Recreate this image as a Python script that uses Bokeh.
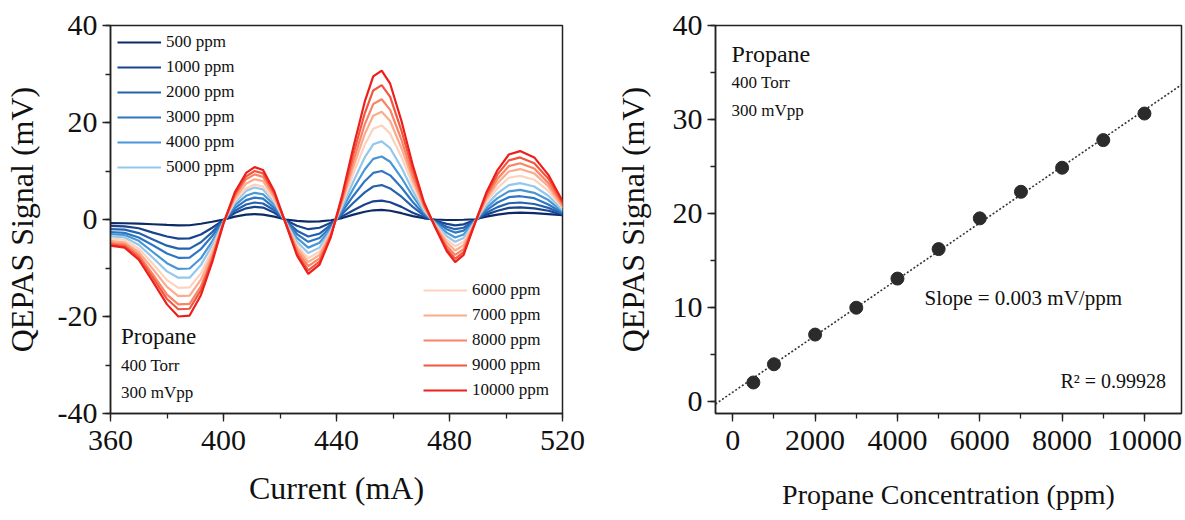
from bokeh.plotting import figure
from bokeh.models import Range1d, SingleIntervalTicker, Legend, LegendItem, Label, PrintfTickFormatter
from bokeh.layouts import row
from bokeh.embed import file_html
from bokeh.resources import INLINE
import numpy as np

FONT = "Liberation Serif"

# ---------------- data: left panel (2f signal vs current) ----------------
current_mA = [360, 365, 370, 375, 380, 384, 388, 392, 396, 400, 404, 408, 411, 414, 418,
              422, 426, 430, 434, 438, 442, 446, 450, 453, 456, 459, 463, 467, 471,
              475, 479, 482, 485, 489, 493, 497, 501, 505, 510, 515, 520]

sig_500 = [-0.75, -0.77, -0.84, -0.98, -1.12, -1.2, -1.19, -0.87, -0.46, -0.02,
           0.6, 1.0, 1.1, 1.0, 0.6, 0.0, -0.3, -0.45, -0.4, -0.15,
           0.3, 1.0, 1.6, 1.9, 2.0, 1.8, 1.3, 0.7, 0.25,
           0.0, -0.1, -0.1, -0.05, 0.05, 0.6, 1.0, 1.3, 1.4, 1.3, 1.1, 0.9]
sig_1000 = [-1.3, -1.4, -1.8, -2.7, -3.5, -3.95, -3.9, -3.1, -1.7, -0.15,
            1.35, 2.3, 2.6, 2.45, 1.4, -0.15, -1.3, -2.0, -1.7, -0.65,
            0.65, 1.9, 3.1, 3.75, 3.9, 3.55, 2.6, 1.4, 0.45,
            -0.25, -0.9, -1.2, -1.0, -0.1, 1.0, 1.8, 2.4, 2.5, 2.3, 1.8, 1.0]
sig_2000 = [-2.0, -2.1, -2.8, -4.1, -5.4, -6.0, -6.0, -4.7, -2.6, -0.2,
            1.8, 3.1, 3.5, 3.3, 1.9, -0.25, -2.3, -3.5, -2.9, -1.1,
            1.15, 3.45, 5.6, 6.8, 7.1, 6.4, 4.7, 2.6, 0.8,
            -0.4, -1.5, -2.0, -1.7, -0.2, 1.4, 2.55, 3.35, 3.5, 3.2, 2.4, 1.2]
sig_3000 = [-2.6, -2.75, -3.7, -5.3, -7.0, -7.9, -7.85, -6.1, -3.4, -0.3,
            2.35, 4.0, 4.5, 4.3, 2.4, -0.3, -3.0, -4.6, -3.8, -1.5,
            1.6, 4.9, 7.9, 9.6, 10.0, 9.1, 6.6, 3.6, 1.1,
            -0.5, -2.0, -2.7, -2.3, -0.25, 1.9, 3.5, 4.6, 4.8, 4.4, 3.1, 1.4]
sig_4000 = [-3.0, -3.2, -4.4, -6.7, -9.0, -10.2, -10.1, -8.0, -4.5, -0.4,
            2.9, 4.9, 5.5, 5.2, 3.0, -0.4, -3.8, -5.8, -4.8, -1.9,
            2.1, 6.4, 10.3, 12.5, 13.0, 11.9, 8.6, 4.8, 1.5,
            -0.7, -2.7, -3.7, -3.1, -0.3, 2.4, 4.4, 5.8, 6.1, 5.5, 4.0, 1.6]
sig_5000 = [-3.5, -3.7, -5.2, -7.9, -10.7, -12.0, -12.0, -9.4, -5.3, -0.5,
            3.4, 5.9, 6.6, 6.2, 3.5, -0.5, -4.6, -6.9, -5.8, -2.2,
            2.6, 7.9, 12.8, 15.5, 16.1, 14.7, 10.7, 5.9, 1.8,
            -0.9, -3.4, -4.6, -3.8, -0.4, 2.9, 5.4, 7.1, 7.5, 6.8, 4.9, 1.9]
sig_6000 = [-3.9, -4.2, -6.0, -9.1, -12.5, -14.1, -14.0, -11.1, -6.2, -0.6,
            3.8, 6.4, 7.2, 6.8, 3.9, -0.6, -5.3, -8.0, -6.6, -2.6,
            3.2, 9.5, 15.4, 18.7, 19.4, 17.7, 12.9, 7.1, 2.2,
            -1.1, -4.1, -5.5, -4.6, -0.5, 3.5, 6.5, 8.6, 9.0, 8.2, 5.9, 2.3]
sig_7000 = [-4.4, -4.7, -6.7, -10.2, -13.9, -15.8, -15.7, -12.4, -7.0, -0.6,
            4.3, 7.4, 8.3, 7.9, 4.5, -0.6, -5.8, -8.8, -7.3, -2.8,
            3.6, 10.9, 17.6, 21.4, 22.2, 20.3, 14.7, 8.1, 2.5,
            -1.2, -4.7, -6.4, -5.3, -0.6, 4.1, 7.5, 9.9, 10.4, 9.5, 6.8, 2.6]
sig_8000 = [-4.8, -5.1, -7.3, -11.3, -15.5, -17.5, -17.4, -13.8, -7.8, -0.7,
            4.8, 8.3, 9.3, 8.8, 5.0, -0.7, -6.4, -9.6, -8.0, -3.1,
            4.0, 12.1, 19.6, 23.8, 24.8, 22.6, 16.4, 9.0, 2.8,
            -1.4, -5.4, -7.3, -6.1, -0.7, 4.5, 8.4, 11.0, 11.6, 10.5, 7.5, 3.0]
sig_9000 = [-5.1, -5.5, -7.8, -12.0, -16.4, -18.5, -18.4, -14.6, -8.2, -0.7,
            5.2, 8.9, 10.0, 9.5, 5.4, -0.75, -7.0, -10.5, -8.7, -3.4,
            4.5, 13.5, 21.9, 26.6, 27.7, 25.3, 18.3, 10.1, 3.2,
            -1.6, -6.0, -8.1, -6.7, -0.7, 5.0, 9.3, 12.2, 12.8, 11.6, 8.4, 3.4]
sig_10000 = [-5.4, -5.8, -8.3, -12.8, -17.5, -20.0, -19.8, -15.6, -8.8, -0.8,
             5.6, 9.6, 10.8, 10.2, 5.8, -0.8, -7.4, -11.2, -9.3, -3.6,
             5.0, 15.0, 24.3, 29.5, 30.7, 28.0, 20.3, 11.2, 3.5,
             -1.7, -6.5, -8.8, -7.3, -0.8, 5.5, 10.2, 13.4, 14.1, 12.8, 9.2, 3.8]

series_labels = ["500 ppm", "1000 ppm", "2000 ppm", "3000 ppm", "4000 ppm", "5000 ppm",
                 "6000 ppm", "7000 ppm", "8000 ppm", "9000 ppm", "10000 ppm"]
series_values = [sig_500, sig_1000, sig_2000, sig_3000, sig_4000, sig_5000,
                 sig_6000, sig_7000, sig_8000, sig_9000, sig_10000]
series_colors = ["#0b2a66", "#17438f", "#2562ad", "#2f76c2", "#4896d6", "#92c8ee",
                 "#fdd3bd", "#fcab8d", "#fa8466", "#f3563e", "#ec1f1a"]

# ---------------- data: right panel (calibration) ----------------
conc_ppm = [500, 1000, 2000, 3000, 4000, 5000, 6000, 7000, 8000, 9000, 10000]
peak_mV = [2.0, 3.94, 7.1, 9.96, 13.06, 16.2, 19.47, 22.3, 24.86, 27.8, 30.63]


def style(p, xlabel, ylabel, xlabel_size, ylabel_size, xstand, ystand):
    p.xgrid.visible = False
    p.ygrid.visible = False
    p.outline_line_color = "#222222"
    p.outline_line_width = 1.5
    p.background_fill_color = "white"
    p.border_fill_color = "white"
    p.xaxis.axis_label = xlabel
    p.yaxis.axis_label = ylabel
    for ax in list(p.xaxis) + list(p.yaxis):
        ax.axis_line_color = "#222222"
        ax.axis_line_width = 1.5
        ax.major_tick_line_color = "#222222"
        ax.minor_tick_line_color = "#222222"
        ax.major_tick_line_width = 1.3
        ax.minor_tick_line_width = 1.3
        ax.major_tick_in = 0
        ax.major_tick_out = 8
        ax.minor_tick_in = 0
        ax.minor_tick_out = 5
        ax.major_label_text_font = FONT
        ax.major_label_text_font_size = "30px"
        ax.major_label_text_color = "#111111"
        ax.axis_label_text_font = FONT
        ax.axis_label_text_font_style = "normal"
        ax.axis_label_text_color = "#111111"
    p.yaxis.major_label_standoff = 5
    p.xaxis.major_label_standoff = 9
    p.yaxis.formatter = PrintfTickFormatter(format="%d")
    p.xaxis.formatter = PrintfTickFormatter(format="%d")
    p.xaxis.axis_label_text_font_size = xlabel_size
    p.yaxis.axis_label_text_font_size = ylabel_size
    p.xaxis.axis_label_standoff = xstand
    p.yaxis.axis_label_standoff = ystand


def note(p, x, y, text, size):
    p.add_layout(Label(x=x, y=y, text=text, text_font=FONT, text_font_size=size,
                       text_baseline="middle", text_color="#111111"))


# ---------------- left figure ----------------
p1 = figure(width=600, height=512, x_range=Range1d(360, 520), y_range=Range1d(-40, 40),
            output_backend="svg", toolbar_location=None,
            min_border_left=106, min_border_right=38, min_border_top=25, min_border_bottom=96)
style(p1, "Current (mA)", "QEPAS Signal (mV)", "32px", "32px", 17, 15)
p1.xaxis.ticker = SingleIntervalTicker(interval=40, num_minor_ticks=2)
p1.yaxis.ticker = SingleIntervalTicker(interval=20, num_minor_ticks=2)

renderers = []
for vals, col in zip(series_values, series_colors):
    r = p1.line(current_mA, vals, line_color=col, line_width=2.2)
    renderers.append(r)

leg_kw = dict(margin=0, spacing=5, glyph_width=44, glyph_height=20, label_height=20,
              label_standoff=5, label_text_font=FONT, label_text_font_size="17px",
              label_text_color="#111111", border_line_alpha=0, background_fill_alpha=0)
leg1 = Legend(items=[LegendItem(label=series_labels[i], renderers=[renderers[i]]) for i in range(6)],
              location="top_left", padding=7, **leg_kw)
leg2 = Legend(items=[LegendItem(label=series_labels[i], renderers=[renderers[i]]) for i in range(6, 11)],
              location="bottom_right", padding=13, **leg_kw)
p1.add_layout(leg1)
p1.add_layout(leg2)

note(p1, 363.7, -24.2, "Propane", "23px")
note(p1, 363.7, -30.2, "400 Torr", "17px")
note(p1, 363.7, -35.7, "300 mVpp", "17px")

# ---------------- right figure ----------------
p2 = figure(width=585, height=512, x_range=Range1d(-420, 10900), y_range=Range1d(-1.3, 40),
            output_backend="svg", toolbar_location=None,
            min_border_left=115, min_border_right=4, min_border_top=22, min_border_bottom=99)
style(p2, "Propane Concentration (ppm)", "QEPAS Signal (mV)", "28px", "32px", 26, 19)
p2.xaxis.ticker = SingleIntervalTicker(interval=2000, num_minor_ticks=2)
p2.yaxis.ticker = SingleIntervalTicker(interval=10, num_minor_ticks=2)

slope, intercept = np.polyfit(conc_ppm, peak_mV, 1)
fit_x = [p2.x_range.start, p2.x_range.end]
fit_y = [slope * x + intercept for x in fit_x]
p2.line(fit_x, fit_y, line_color="#333333", line_width=1.6, line_dash="2 2")
p2.scatter(conc_ppm, peak_mV, size=13, fill_color="#2b2b2b", line_color="#2b2b2b")

note(p2, -30, 37.0, "Propane", "24px")
note(p2, -30, 33.9, "400 Torr", "17px")
note(p2, -30, 31.0, "300 mVpp", "17px")
note(p2, 4660, 11.0, "Slope = 0.003 mV/ppm", "21px")
note(p2, 7960, 2.2, "R\u00b2 = 0.99928", "20px")

layout = row(p1, p2)
open("out.html", "w").write(file_html(layout, INLINE))
